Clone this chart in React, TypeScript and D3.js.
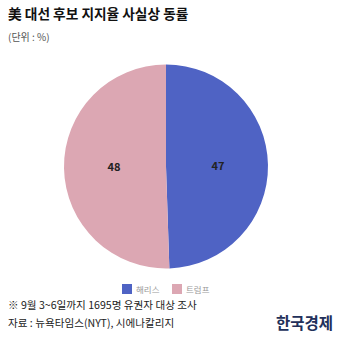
import React from "react";
import * as d3 from "d3";

const categories = ["해리스", "트럼프"];
const values = [47, 48];
const colors = ["#4f63c4", "#dca7b3"];

const FONT = "'Noto Sans CJK KR', 'Noto Sans', sans-serif";

export default function App() {
  const W = 340, H = 340;
  const cx = 166, cy = 166.5, r = 102;
  const pie = d3.pie<number>().sort(null).value((d) => d);
  const arcs = pie(values);
  const arc = d3.arc<d3.PieArcDatum<number>>().innerRadius(0).outerRadius(r);
  const labelArc = d3.arc<d3.PieArcDatum<number>>().innerRadius(r * 0.51).outerRadius(r * 0.51);
  const legendX = [122, 172];
  return (
    <svg width={W} height={H} style={{ position: "absolute", left: 0, top: 0, background: "#fff" }} fontFamily={FONT}>
      <rect width={W} height={H} fill="#fff" />
      <text x={8} y={19} fontSize={13.7} fontWeight="bold" fill="#111">美 대선 후보 지지율 사실상 동률</text>
      <text x={8} y={41} fontSize={10} fill="#555">(단위 : %)</text>
      <g transform={`translate(${cx},${cy})`}>
        {arcs.map((a, i) => (
          <path key={i} d={arc(a) || ""} fill={colors[i]} />
        ))}
        {arcs.map((a, i) => {
          const [x, y] = labelArc.centroid(a);
          return (
            <text key={"l" + i} x={x} y={y - 1} textAnchor="middle" dominantBaseline="central" fontSize={11} fontWeight="bold" fill="#222">
              {values[i]}
            </text>
          );
        })}
      </g>
      {categories.map((c, i) => (
        <g key={c} transform={`translate(${legendX[i]},284)`}>
          <rect width={10} height={10} fill={colors[i]} />
          <text x={14} y={8.5} fontSize={8.5} fill="#999">{c}</text>
        </g>
      ))}
      <text x={8} y={309} fontSize={10.6} fill="#222">※ 9월 3~6일까지 1695명 유권자 대상 조사</text>
      <text x={8} y={327} fontSize={10.6} fill="#222">자료 : 뉴욕타임스(NYT), 시에나칼리지</text>
      <text x={333} y={329} textAnchor="end" fontSize={15.5} fontWeight="bold" fill="#22305a">한국경제</text>
    </svg>
  );
}
